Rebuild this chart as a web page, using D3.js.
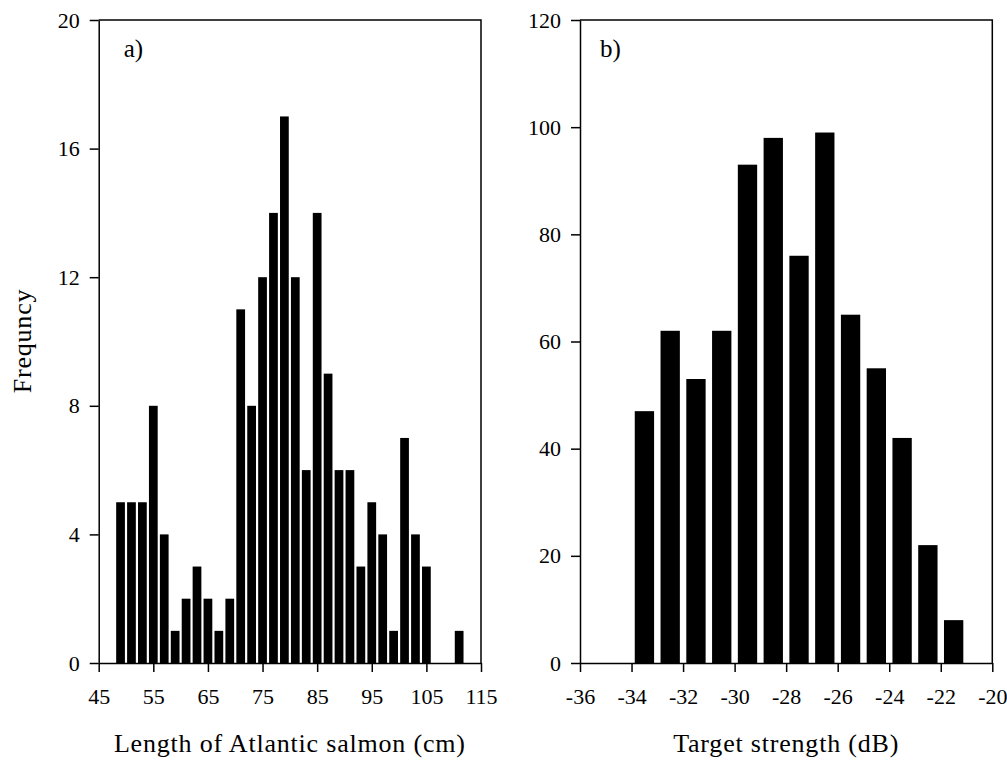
<!DOCTYPE html>
<html>
<head>
<meta charset="utf-8">
<script src="https://cdn.jsdelivr.net/npm/d3@7"></script>
<style>
    body { margin: 0; background: #fff; }
    svg { display: block; }
    text { font-family: "Liberation Serif", "Times New Roman", serif; fill: #000; }
</style>
</head>
<body>
<div id="viz"></div>
<script>
// a) salmon length, 2 cm classes (class centre in cm)
const lengthClasses = [49, 51, 53, 55, 57, 59, 61, 63, 65, 67, 69, 71, 73, 75, 77, 79, 81, 83, 85, 87, 89, 91, 93, 95, 97, 99, 101, 103, 105, 107, 109, 111];
const lengthCounts = [5, 5, 5, 8, 4, 1, 2, 3, 2, 1, 2, 11, 8, 12, 14, 17, 12, 6, 14, 9, 6, 6, 3, 5, 4, 1, 7, 4, 3, 0, 0, 1];
const lengthTicks = [45, 55, 65, 75, 85, 95, 105, 115];
const lengthFreqTicks = [0, 4, 8, 12, 16, 20];

// b) target strength, 1 dB classes (class centre in dB)
const tsClasses = [-33.5, -32.5, -31.5, -30.5, -29.5, -28.5, -27.5, -26.5, -25.5, -24.5, -23.5, -22.5, -21.5];
const tsCounts = [47, 62, 53, 62, 93, 98, 76, 99, 65, 55, 42, 22, 8];
const tsTicks = [-36, -34, -32, -30, -28, -26, -24, -22, -20];
const tsFreqTicks = [0, 20, 40, 60, 80, 100, 120];

const width = 1007;
const height = 762;

const svg = d3.select("#viz").append("svg")
    .attr("width", width)
    .attr("height", height);

const plotTop = 20;
const plotBottom = 663;

function panel(opts) {
    const x = d3.scaleLinear().domain(opts.xDomain).range([opts.left, opts.right]);
    const y = d3.scaleLinear().domain(opts.yDomain).range([plotBottom, plotTop]);
    const g = svg.append("g");

    // bars
    g.selectAll("rect")
        .data(opts.classes.map((c, i) => ({ c: c, n: opts.counts[i] })))
        .enter()
        .append("rect")
        .attr("x", d => x(d.c - opts.barWidth / 2))
        .attr("width", d => x(d.c + opts.barWidth / 2) - x(d.c - opts.barWidth / 2))
        .attr("y", d => y(d.n))
        .attr("height", d => y(0) - y(d.n))
        .attr("fill", "#000");

    // frame (top + right)
    g.append("path")
        .attr("d", `M${opts.left},${plotTop}H${opts.right}V${plotBottom}`)
        .attr("fill", "none")
        .attr("stroke", "#000")
        .attr("stroke-width", 1.5);

    const xAxis = g.append("g")
        .attr("transform", `translate(0,${plotBottom})`)
        .call(d3.axisBottom(x).tickValues(opts.xTicks).tickFormat(d3.format("d"))
            .tickSize(9).tickSizeOuter(0).tickPadding(16));

    const yAxis = g.append("g")
        .attr("transform", `translate(${opts.left},0)`)
        .call(d3.axisLeft(y).tickValues(opts.yTicks).tickFormat(d3.format("d"))
            .tickSize(9).tickSizeOuter(0).tickPadding(10));

    [xAxis, yAxis].forEach(a => {
        a.selectAll("path, line").attr("stroke", "#000").attr("stroke-width", 1.5);
        a.selectAll("text").style("font-size", "22px").attr("font-family", null);
    });
    // d3 uses a unicode minus; the original shows a plain hyphen
    xAxis.selectAll("text").text(d => String(d));

    g.append("text")
        .attr("x", (opts.left + opts.right) / 2)
        .attr("y", 752)
        .attr("text-anchor", "middle")
        .style("font-size", "26px")
        .style("letter-spacing", "0.8px")
        .text(opts.xTitle);

    g.append("text")
        .attr("x", opts.left + opts.labelDx)
        .attr("y", 57)
        .style("font-size", "25px")
        .text(opts.label);
}

panel({
    left: 98.7, right: 481,
    xDomain: [45, 115], yDomain: [0, 20],
    classes: lengthClasses, counts: lengthCounts, barWidth: 1.6,
    xTicks: lengthTicks, yTicks: lengthFreqTicks,
    xTitle: "Length of Atlantic salmon (cm)",
    label: "a)", labelDx: 25
});

panel({
    left: 580, right: 992.3,
    xDomain: [-36, -20], yDomain: [0, 120],
    classes: tsClasses, counts: tsCounts, barWidth: 0.75,
    xTicks: tsTicks, yTicks: tsFreqTicks,
    xTitle: "Target strength (dB)",
    label: "b)", labelDx: 20
});

svg.append("text")
    .attr("transform", "translate(31,341) rotate(-90)")
    .attr("text-anchor", "middle")
    .style("font-size", "26px")
    .style("letter-spacing", "0.8px")
    .text("Frequncy");
</script>
</body>
</html>
